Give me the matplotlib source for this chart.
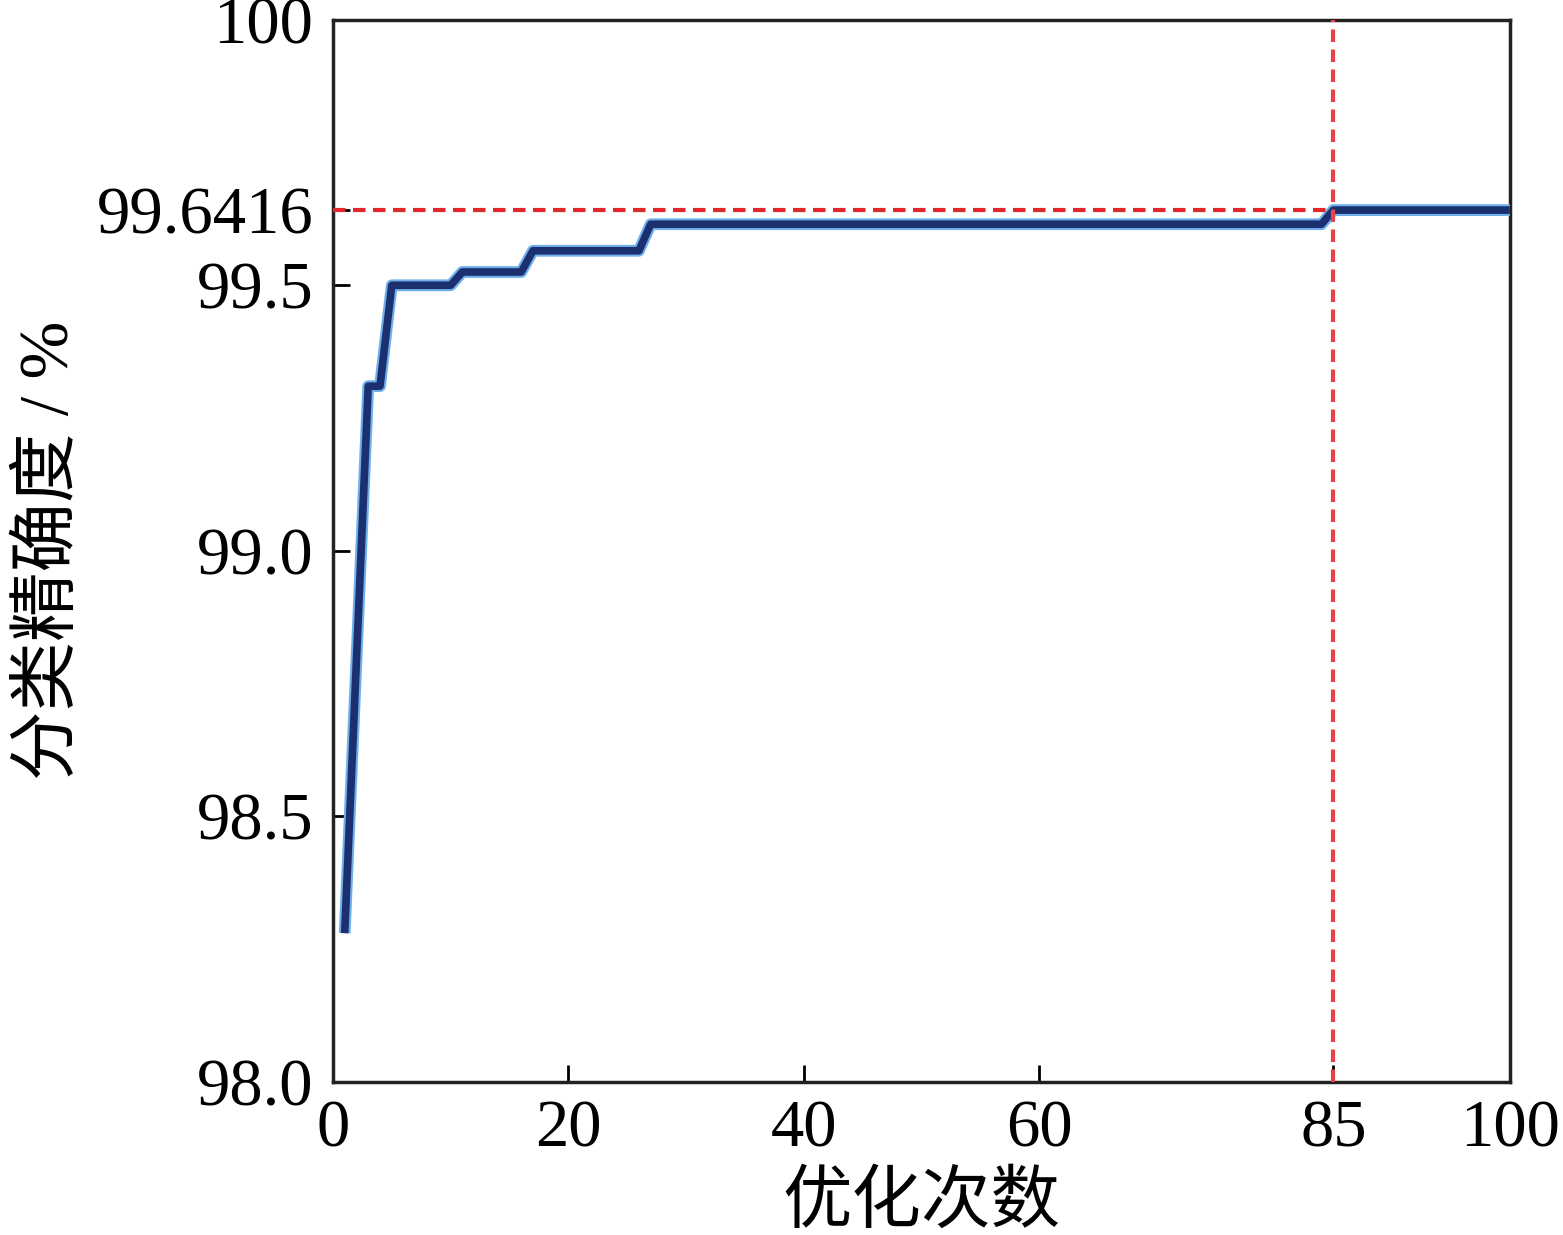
import matplotlib
matplotlib.use('Agg')
import matplotlib.pyplot as plt
import numpy as np

# optimisation history
iters = [1, 3, 4, 5, 10, 11, 16, 17, 26, 27, 84, 85, 100]
acc = [98.28, 99.31, 99.31, 99.50, 99.50, 99.525, 99.525, 99.565, 99.565,
       99.615, 99.615, 99.6416, 99.6416]
best_iter = 85
best_acc = 99.6416

xticks = [0, 20, 40, 60, 85, 100]
yticks = [98.0, 98.5, 99.0, 99.5, 99.6416, 100]
ylabels = ['98.0', '98.5', '99.0', '99.5', '99.6416', '100']

plt.rcParams['font.family'] = ['Liberation Serif', 'Noto Sans CJK SC']

fig = plt.figure(figsize=(15.63, 12.35), dpi=100)
ax = fig.add_axes([0.213, 0.124, 0.753, 0.860])

# glowing blue line
ax.plot(iters, acc, color='#6fb0ec', linewidth=8.5, solid_capstyle='butt', zorder=3)
ax.plot(iters, acc, color='#1c3070', linewidth=5.5, solid_capstyle='butt', zorder=4)

ax.plot([0, best_iter], [best_acc, best_acc], color='#e3262c', linestyle=(0, (3, 1.8)),
        linewidth=3, zorder=5)
ax.axvline(best_iter, color='#ec4047', linestyle=(0, (3, 1.8)), linewidth=3, zorder=5)

ax.set_xlim(0, 100)
ax.set_ylim(98.0, 100)
ax.set_xticks(xticks)
ax.set_xticklabels([str(t) for t in xticks])
ax.set_yticks(yticks)
ax.set_yticklabels(ylabels)
ax.tick_params(direction='in', length=12, width=2, labelsize=48, pad=13)
ax.tick_params(axis='y', pad=14)
for s in ax.spines.values():
    s.set_linewidth(2.5)
    s.set_color('#222222')

ax.set_xlabel('优化次数', fontsize=50, labelpad=8)
ax.set_ylabel('分类精确度 / %', fontsize=50, labelpad=10)

plt.savefig('out.png', dpi=100)
